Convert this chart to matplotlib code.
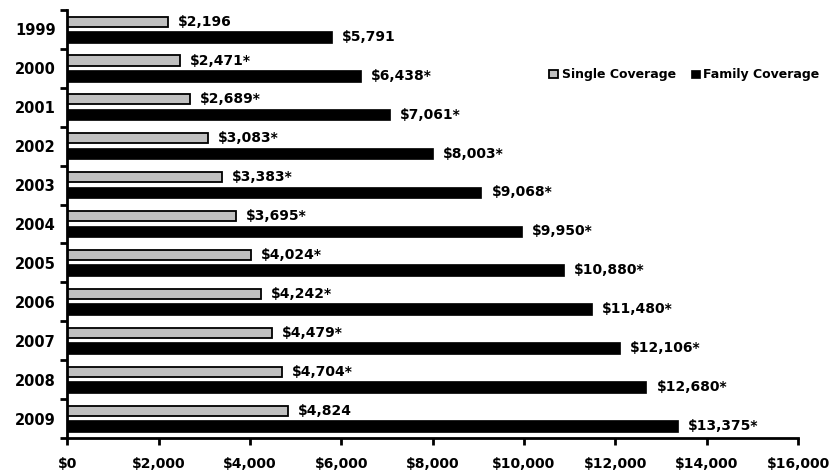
import matplotlib
matplotlib.use("Agg")
import matplotlib.pyplot as plt
import numpy as np

years = ["1999", "2000", "2001", "2002", "2003", "2004",
         "2005", "2006", "2007", "2008", "2009"]
single = [2196, 2471, 2689, 3083, 3383, 3695, 4024, 4242, 4479, 4704, 4824]
family = [5791, 6438, 7061, 8003, 9068, 9950, 10880, 11480, 12106, 12680, 13375]
single_sig = [False, True, True, True, True, True, True, True, True, True, False]
family_sig = [False, True, True, True, True, True, True, True, True, True, True]
x_ticks = [0, 2000, 4000, 6000, 8000, 10000, 12000, 14000, 16000]

plt.rcParams["font.family"] = "DejaVu Sans"
plt.rcParams["font.weight"] = "bold"

fig = plt.figure(figsize=(8.4, 4.72), dpi=100)
ax = fig.add_axes([0.08, 0.072, 0.87, 0.907])

pos = np.arange(len(years))
off_s, off_f = -0.2, 0.19
ax.barh(pos + off_s, single, height=0.26, color="#c0c0c0", edgecolor="black",
        linewidth=1.3, label="Single Coverage")
ax.barh(pos + off_f, family, height=0.3, color="black", edgecolor="black",
        linewidth=0.5, label="Family Coverage")


def money(v, star):
    return "${:,}".format(v) + ("*" if star else "")


for i in range(len(years)):
    ax.text(single[i] + 220, pos[i] + off_s, money(single[i], single_sig[i]),
            va="center", ha="left", fontsize=10, fontweight="bold")
    ax.text(family[i] + 220, pos[i] + off_f, money(family[i], family_sig[i]),
            va="center", ha="left", fontsize=10, fontweight="bold")

ax.set_xlim(0, 16000)
ax.set_ylim(len(years) - 0.5, -0.5)

ax.set_xticks(x_ticks)
ax.set_xticklabels(["${:,}".format(t) for t in x_ticks], fontsize=10,
                   fontweight="bold")
ax.tick_params(axis="x", length=5, width=2, pad=9)

# boundary ticks between years, labels centred on each year
ax.set_yticks(np.arange(len(years) + 1) - 0.5)
ax.set_yticklabels([])
ax.set_yticks(pos, minor=True)
ax.set_yticklabels(years, minor=True, fontsize=10.5, fontweight="bold")
ax.tick_params(axis="y", which="major", length=5, width=2)
ax.tick_params(axis="y", which="minor", length=0, pad=8)

for s in ["top", "right"]:
    ax.spines[s].set_visible(False)
for s in ["left", "bottom"]:
    ax.spines[s].set_linewidth(2)

ax.legend(loc="upper right", bbox_to_anchor=(1.045, 0.89), ncol=2, frameon=False,
          prop={"size": 9, "weight": "bold"}, handlelength=0.7,
          handleheight=0.7, handletextpad=0.3, columnspacing=1.2)

fig.savefig("out.png", dpi=100)
